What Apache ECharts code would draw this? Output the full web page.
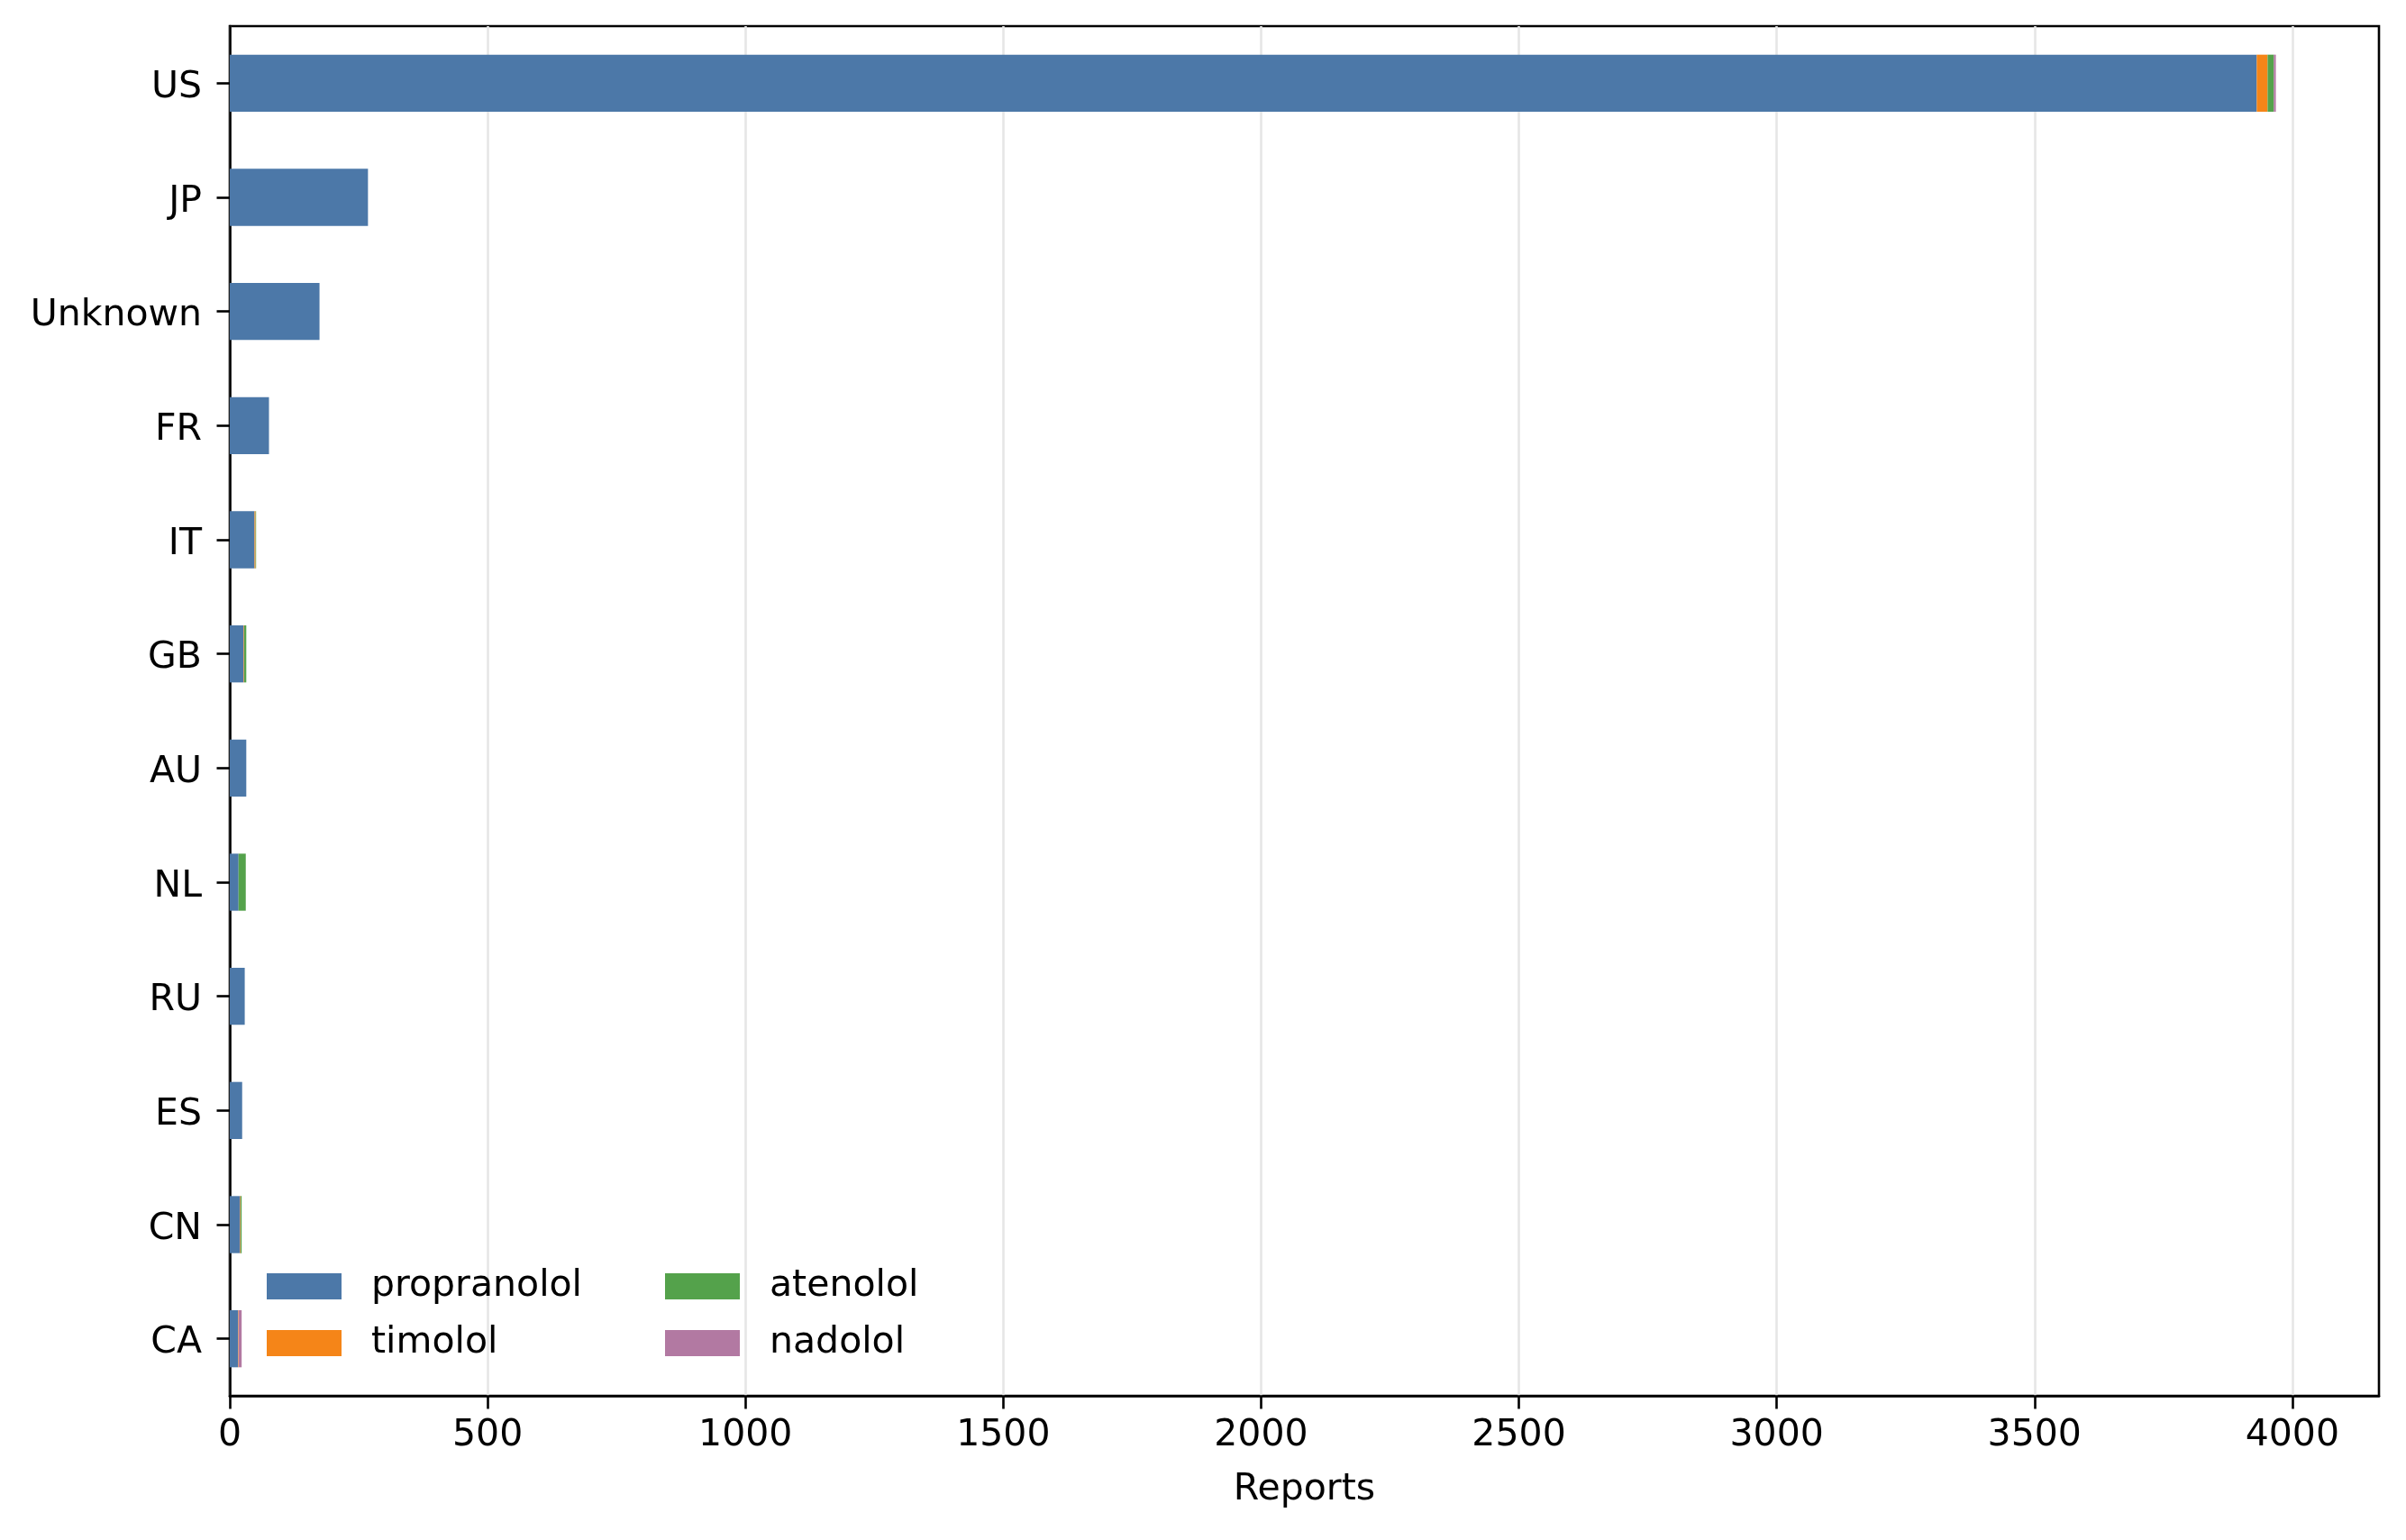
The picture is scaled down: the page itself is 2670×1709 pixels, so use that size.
<!DOCTYPE html>
<html>
<head>
<meta charset="utf-8">
<script src="https://cdn.jsdelivr.net/npm/echarts@6/dist/echarts.min.js"></script>
<style>
html, body { margin: 0; padding: 0; background: #fff; }
#chart { width: 2670px; height: 1709px; }
</style>
</head>
<body>
<div id="chart"></div>
<script>
const countries = ['US', 'JP', 'Unknown', 'FR', 'IT', 'GB', 'AU', 'NL', 'RU', 'ES', 'CN', 'CA'];
const propranolol = [3931, 268, 174, 76, 48, 27, 32, 17, 29, 24, 20, 16];
const timolol     = [21, 0, 0, 0, 2, 1, 0, 0, 0, 0, 1, 1];
const atenolol    = [12, 0, 0, 0, 1, 4, 0, 14, 0, 0, 2, 0];
const nadolol     = [4, 0, 0, 0, 0, 0, 0, 0, 0, 0, 0, 6];
const xTicks = [0, 500, 1000, 1500, 2000, 2500, 3000, 3500, 4000];
const xMax = 4168;

const seriesDefs = [
  { name: 'propranolol', data: propranolol, color: '#4c78a8' },
  { name: 'timolol', data: timolol, color: '#f58518' },
  { name: 'atenolol', data: atenolol, color: '#54a24b' },
  { name: 'nadolol', data: nadolol, color: '#b279a2' }
];

const FONT = 'DejaVu Sans';
const FS = 41;

const chart = echarts.init(document.getElementById('chart'), null, { renderer: 'canvas' });

const legendCommon = {
  orient: 'vertical',
  top: 1402,
  itemWidth: 83,
  itemHeight: 29,
  itemGap: 22,
  icon: 'rect',
  textStyle: { fontFamily: FONT, fontSize: FS, color: '#000', padding: [0, 0, 0, 28] },
  selectedMode: false
};

chart.setOption({
  animation: false,
  backgroundColor: '#fff',
  grid: {
    left: 255, right: 30, top: 29, bottom: 160,
    show: true, borderColor: '#000', borderWidth: 2.6, backgroundColor: 'transparent'
  },
  legend: [
    Object.assign({}, legendCommon, { left: 291, data: ['propranolol', 'timolol'] }),
    Object.assign({}, legendCommon, { left: 733, data: ['atenolol', 'nadolol'] })
  ],
  xAxis: {
    type: 'value',
    min: 0,
    max: xMax,
    interval: 500,
    name: 'Reports',
    nameLocation: 'middle',
    nameGap: 84,
    nameTextStyle: { fontFamily: FONT, fontSize: FS, color: '#000' },
    axisLine: { show: true, lineStyle: { color: '#000', width: 2.6 } },
    axisTick: { show: true, length: 14.5, lineStyle: { color: '#000', width: 2.6 }, customValues: xTicks },
    axisLabel: { fontFamily: FONT, fontSize: FS, color: '#000', margin: 24, customValues: xTicks,
                 formatter: v => String(v) },
    splitLine: { show: true, lineStyle: { color: '#e6e6e6', width: 2.6 } }
  },
  yAxis: {
    type: 'category',
    data: countries,
    inverse: true,
    axisLine: { show: true, lineStyle: { color: '#000', width: 2.6 } },
    axisTick: { show: true, length: 14.5, alignWithLabel: true, lineStyle: { color: '#000', width: 2.6 } },
    axisLabel: {
      margin: 31,
      formatter: v => '{a|' + v + '}',
      rich: { a: { fontFamily: FONT, fontSize: FS, color: '#000', padding: [10, 0, 0, 0] } }
    },
    splitLine: { show: false }
  },
  series: seriesDefs.map(s => ({
    name: s.name,
    type: 'bar',
    stack: 'total',
    barWidth: '50%',
    data: s.data,
    itemStyle: { color: s.color },
    emphasis: { disabled: true }
  }))
});
</script>
</body>
</html>
